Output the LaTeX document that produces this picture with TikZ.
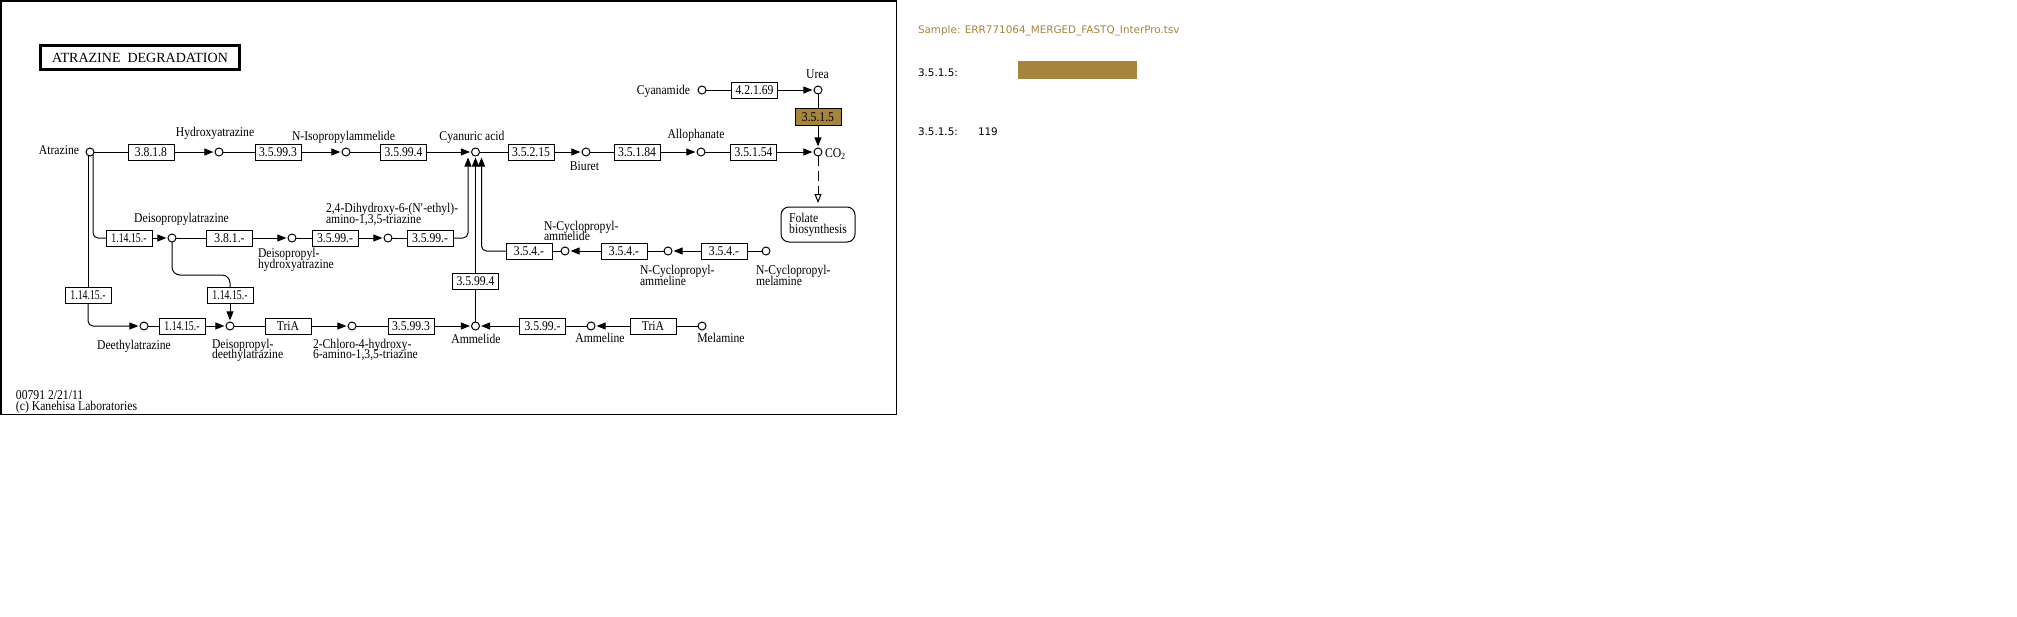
\documentclass[tikz,border=0pt]{standalone}
\usepackage{fontspec}
\usepackage{graphicx}
\setmainfont{Liberation Serif}[FakeStretch=0.87]
\newfontfamily\titlefont{Liberation Serif}
\newfontfamily\panelfont{DejaVu Sans}
\usetikzlibrary{arrows.meta,calc}
\definecolor{keggbrown}{RGB}{165,132,62}
\newcommand\keggfont{\fontsize{6.7pt}{5.4pt}\selectfont\lineskiplimit=-6pt\lineskip=0pt\relax}
\newcommand\narrowec[1]{\scalebox{0.84}[1]{#1}}
\begin{document}
\begin{tikzpicture}[x=0.5pt,y=-0.5pt,
  every node/.style={inner sep=0pt,outer sep=0pt},
  cpd/.style={circle,draw,line width=0.5pt,minimum size=4pt},
  enz/.style={rectangle,draw,line width=0.5pt,minimum width=23pt,minimum height=8pt,font=\keggfont},
  lbl/.style={font=\keggfont,anchor=base},
  lblw/.style={font=\keggfont,anchor=base west},
  lble/.style={font=\keggfont,anchor=base east},
  mlbl/.style={font=\keggfont,align=left,anchor=north west},
  conn/.style={line width=0.5pt},
  rxn/.style={conn,-{Triangle[length=4.5pt,width=3.5pt]},shorten >=0.8pt},
  softcorner/.style={rounded corners=2.5pt},
  panel/.style={font=\panelfont\fontsize{5.2pt}{6pt}\selectfont,anchor=base west}
]
\useasboundingbox (0,0) rectangle (2017,616);
% frame and title
\draw[line width=0.75pt] (0.75,0.75) rectangle (896.25,414.25);
\node[draw,line width=1.5pt,minimum width=99.5pt,minimum height=12pt,
      font=\titlefont\fontsize{7pt}{8pt}\selectfont] (title) at (140,57.5) {ATRAZINE\ \ DEGRADATION};

% compounds
\node[cpd] (atr)   at (90,152) {};
\node[cpd] (hyd)   at (219,152) {};
\node[cpd] (nip)   at (346,152) {};
\node[cpd] (cya)   at (475.5,152) {};
\node[cpd] (biu)   at (586,152) {};
\node[cpd] (allo)  at (701,152) {};
\node[cpd] (co2)   at (818,152) {};
\node[cpd] (cyan)  at (702,90) {};
\node[cpd] (urea)  at (818,90) {};
\node[cpd] (dip)   at (172,238) {};
\node[cpd] (diph)  at (292,238) {};
\node[cpd] (dih)   at (388,238) {};
\node[cpd] (ncamd) at (565,251) {};
\node[cpd] (ncaml) at (668,251) {};
\node[cpd] (ncm)   at (766,251) {};
\node[cpd] (deeth) at (144,326) {};
\node[cpd] (dd)    at (230,326) {};
\node[cpd] (cl)    at (352,326) {};
\node[cpd] (amd)   at (475.5,326) {};
\node[cpd] (amn)   at (591,326) {};
\node[cpd] (mel)   at (702,326) {};

% enzymes
\node[enz] (b3818)   at (151,152) {3.8.1.8};
\node[enz] (b35993a) at (278,152) {3.5.99.3};
\node[enz] (b35994a) at (403.5,152) {3.5.99.4};
\node[enz] (b35215)  at (531,152) {3.5.2.15};
\node[enz] (b35184)  at (637,152) {3.5.1.84};
\node[enz] (b35154)  at (753.5,152) {3.5.1.54};
\node[enz] (b42169)  at (754.5,90) {4.2.1.69};
\node[enz,fill=keggbrown,minimum height=8.5pt] (b3515) at (818,117) {3.5.1.5};
\node[enz] (b11415a) at (129,238) {\narrowec{1.14.15.-}};
\node[enz] (b381)    at (229.5,238) {3.8.1.-};
\node[enz] (b3599a)  at (335,238) {3.5.99.-};
\node[enz] (b3599b)  at (430,238) {3.5.99.-};
\node[enz] (b354a)   at (529,251) {3.5.4.-};
\node[enz] (b354b)   at (624,251) {3.5.4.-};
\node[enz] (b354c)   at (724,251) {3.5.4.-};
\node[enz] (b11415b) at (88,295) {\narrowec{1.14.15.-}};
\node[enz] (b11415d) at (230,295) {\narrowec{1.14.15.-}};
\node[enz] (b35994b) at (475.5,281) {3.5.99.4};
\node[enz] (b11415c) at (182,326) {\narrowec{1.14.15.-}};
\node[enz] (btria)   at (288,326) {TriA};
\node[enz] (b35993b) at (411,326) {3.5.99.3};
\node[enz] (b3599c)  at (542.5,326) {3.5.99.-};
\node[enz] (btrib)   at (653,326) {TriA};
\node[draw,line width=0.5pt,rounded corners=4pt,minimum width=37pt,minimum height=17.5pt,
      font=\keggfont,align=left] (folate) at (818,224.5) {Folate\\biosynthesis};

% labels
\node[lble] (latr)  at (79,154.5) {Atrazine};
\node[lbl]  (lhyd)  at (215,136.5) {Hydroxyatrazine};
\node[lbl]  (lnip)  at (343.5,140) {N-Isopropylammelide};
\node[lbl]  (lcya)  at (472,140.5) {Cyanuric acid};
\node[lbl]  (lbiu)  at (584.5,170.5) {Biuret};
\node[lbl]  (lallo) at (696,138.5) {Allophanate};
\node[lblw] (lco2)  at (825,157.5) {CO\textsubscript{2}};
\node[lble] (lcyan) at (690,94) {Cyanamide};
\node[lbl]  (lurea) at (817.5,78.3) {Urea};
\node[lbl]  (ldip)  at (181.5,222.5) {Deisopropylatrazine};
\node[mlbl] (ldiph) at (258,248.3) {Deisopropyl-\\hydroxyatrazine};
\node[mlbl] (ldih)  at (326,203.3) {2,4-Dihydroxy-6-(N\textquotesingle-ethyl)-\\amino-1,3,5-triazine};
\node[mlbl] (lncamd) at (544,220.7) {N-Cyclopropyl-\\ammelide};
\node[mlbl] (lncaml) at (640,265) {N-Cyclopropyl-\\ammeline};
\node[mlbl] (lncm)  at (756,265) {N-Cyclopropyl-\\melamine};
\node[lbl]  (ldeeth) at (134,349) {Deethylatrazine};
\node[mlbl] (ldd)   at (212,338.7) {Deisopropyl-\\deethylatrazine};
\node[mlbl] (lcl)   at (313,338.7) {2-Chloro-4-hydroxy-\\6-amino-1,3,5-triazine};
\node[lbl]  (lamd)  at (476,343.5) {Ammelide};
\node[lbl]  (lamn)  at (600,342.7) {Ammeline};
\node[lbl]  (lmel)  at (721,342.7) {Melamine};
\node[mlbl] (footer) at (16,391) {00791 2/21/11\\(c) Kanehisa Laboratories};

% row 1
\draw[conn] (atr) -- (b3818);
\draw[rxn]  (b3818) -- (hyd);
\draw[conn] (hyd) -- (b35993a);
\draw[rxn]  (b35993a) -- (nip);
\draw[conn] (nip) -- (b35994a);
\draw[rxn]  (b35994a) -- (cya);
\draw[conn] (cya) -- (b35215);
\draw[rxn]  (b35215) -- (biu);
\draw[conn] (biu) -- (b35184);
\draw[rxn]  (b35184) -- (allo);
\draw[conn] (allo) -- (b35154);
\draw[rxn]  (b35154) -- (co2);
% urea branch
\draw[conn] (cyan) -- (b42169);
\draw[rxn]  (b42169) -- (urea);
\draw[conn] (urea) -- (b3515);
\draw[rxn]  (b3515) -- (co2);
\draw[conn,dash pattern=on 5pt off 2.5pt,-{Triangle[open,length=4.5pt,width=3.5pt]},shorten >=2pt] (co2) -- (folate);

% atrazine branches
\coordinate (atrR) at ($(atr)+(3,3)$);
\coordinate (atrL) at ($(atr)+(-2,3.5)$);
\draw[conn,softcorner] (atrR) |- (b11415a.west);
\draw[conn] (atrL) -- (b11415b.north);
\draw[rxn,softcorner] (b11415b.south) |- (deeth);

% row 2
\draw[rxn]  (b11415a) -- (dip);
\draw[conn] (dip) -- (b381);
\draw[rxn]  (b381) -- (diph);
\draw[conn] (diph) -- (b3599a);
\draw[rxn]  (b3599a) -- (dih);
\draw[conn] (dih) -- (b3599b);
\coordinate (cyaL) at ($(cya.south)+(-7.5,1.5)$);
\coordinate (cyaM) at ($(cya.south)+(0,1.5)$);
\coordinate (cyaR) at ($(cya.south)+(6,1.5)$);
\draw[rxn,shorten >=0pt,softcorner] (b3599b.east) -| (cyaL);
\draw[conn,rounded corners=4pt] (dip.south) -- ++(0,33) -| (b11415d.north);
\draw[rxn]  (b11415d) -- (dd);

% N-cyclopropyl row
\draw[conn] (ncm) -- (b354c);
\draw[rxn]  (b354c) -- (ncaml);
\draw[conn] (ncaml) -- (b354b);
\draw[rxn]  (b354b) -- (ncamd);
\draw[conn] (ncamd) -- (b354a);
\draw[rxn,shorten >=0pt,softcorner] (b354a.west) -| (cyaR);

% bottom row
\draw[conn] (deeth) -- (b11415c);
\draw[rxn]  (b11415c) -- (dd);
\draw[conn] (dd) -- (btria);
\draw[rxn]  (btria) -- (cl);
\draw[conn] (cl) -- (b35993b);
\draw[rxn]  (b35993b) -- (amd);
\draw[conn] (mel) -- (btrib);
\draw[rxn]  (btrib) -- (amn);
\draw[conn] (amn) -- (b3599c);
\draw[rxn]  (b3599c) -- (amd);
\draw[conn] (amd) -- (b35994b);
\draw[rxn,shorten >=0pt] (b35994b) -- (cyaM);

% side panel
\node[panel,text=keggbrown] (sample) at (918,33.5) {Sample: ERR771064\_MERGED\_FASTQ\_InterPro.tsv};
\node[panel] (ec1) at (918,76) {3.5.1.5:};
\node[fill=keggbrown,minimum width=59.5pt,minimum height=9pt] (bar) at (1077.5,70) {};
\node[panel] (ec2) at (918,135) {3.5.1.5:};
\node[panel] (cnt) at (978,135) {119};
\end{tikzpicture}
\end{document}
